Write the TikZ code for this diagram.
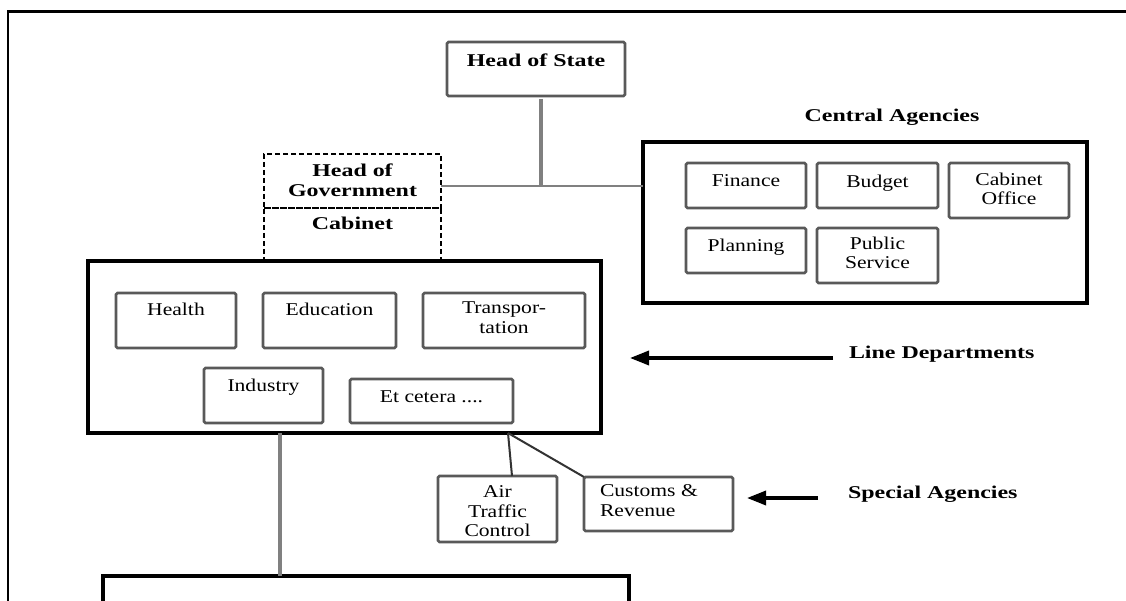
\documentclass[tikz,border=0pt]{standalone}
\usepackage{fontspec}
\setmainfont{Liberation Serif}
\newfontfamily\regf[FakeStretch=1.2]{Liberation Serif}
\newfontfamily\bldf[FakeStretch=1.33]{Liberation Serif}
\usetikzlibrary{arrows.meta}
\begin{document}
\begin{tikzpicture}[x=1pt,y=-1pt,
  every node/.style={inner sep=0pt, outer sep=0pt},
  ibox/.style={draw=black!65, line width=2.8pt, rounded corners=1.5pt, anchor=north west},
  bigbox/.style={draw=black, line width=3.4pt, anchor=north west},
  dbox/.style={draw=black, line width=2pt, dash pattern=on 5pt off 3pt, anchor=north west},
  rtxt/.style={font=\regf\fontsize{18pt}{19.5pt}\selectfont, align=center, anchor=north},
  btxt/.style={font=\bldf\bfseries\fontsize{18pt}{20pt}\selectfont, align=center},
  gline/.style={draw=black!50, line width=3.6pt},
  gthin/.style={draw=black!50, line width=2.6pt},
  dline/.style={draw=black!80, line width=2pt},
  arr/.style={draw=black, line width=3.4pt, -{Triangle[length=19pt,width=14pt]}},
]
\useasboundingbox (0,0) rectangle (1126,601);
\clip (0,0) rectangle (1126,601);
\fill[white] (0,0) rectangle (1126,601);

% outer frame
\node[draw=black, line width=2.4pt, minimum width=1140pt, minimum height=620pt, anchor=north west] (frame) at (8,11.5) {};

% head of state
\node[ibox, minimum width=178pt, minimum height=54pt] (hos) at (447,42) {};
\node[btxt, anchor=north] (hosT) at ([yshift=-12pt]hos.north) {Head of State};

% head of government / cabinet
\node[dbox, minimum width=177pt, minimum height=54pt] (hog) at (264,154) {};
\node[btxt, anchor=north] (hogT) at ([yshift=-10pt]hog.north) {Head of\\Government};
\node[dbox, minimum width=177pt, minimum height=53pt] (cab) at (264,208) {};
\node[btxt, anchor=north] (cabT) at ([yshift=-9pt]cab.north) {Cabinet};

% line departments box
\node[bigbox, fill=white, minimum width=513pt, minimum height=172pt] (ld) at (88,261) {};
\node[ibox, minimum width=120pt, minimum height=55pt] (health) at (116,293) {};
\node[rtxt] (healthT) at ([yshift=-10pt]health.north) {Health};
\node[ibox, minimum width=133pt, minimum height=55pt] (edu) at (263,293) {};
\node[rtxt] (eduT) at ([yshift=-10pt]edu.north) {Education};
\node[ibox, minimum width=162pt, minimum height=55pt] (trans) at (423,293) {};
\node[rtxt] (transT) at ([yshift=-9pt]trans.north) {Transpor-\\tation};
\node[ibox, minimum width=119pt, minimum height=55pt] (ind) at (204,368) {};
\node[rtxt] (indT) at ([yshift=-11pt]ind.north) {Industry};
\node[ibox, minimum width=163pt, minimum height=44pt] (etc) at (350,379) {};
\node[rtxt] (etcT) at ([yshift=-12pt]etc.north) {Et cetera ....};

% central agencies
\node[btxt, anchor=base] (caT) at (892,122) {Central Agencies};
\node[bigbox, minimum width=444pt, minimum height=161pt] (ca) at (643,142) {};
\node[ibox, minimum width=120pt, minimum height=45pt] (fin) at (686,163) {};
\node[rtxt] (finT) at ([yshift=-12pt]fin.north) {Finance};
\node[ibox, minimum width=121pt, minimum height=45pt] (bud) at (817,163) {};
\node[rtxt] (budT) at ([yshift=-12pt]bud.north) {Budget};
\node[ibox, minimum width=120pt, minimum height=55pt] (cbo) at (949,163) {};
\node[rtxt] (cboT) at ([yshift=-10pt]cbo.north) {Cabinet\\Office};
\node[ibox, minimum width=120pt, minimum height=45pt] (pla) at (686,228) {};
\node[rtxt] (plaT) at ([yshift=-11pt]pla.north) {Planning};
\node[ibox, minimum width=121pt, minimum height=55pt] (pub) at (817,228) {};
\node[rtxt] (pubT) at ([yshift=-9pt]pub.north) {Public\\Service};

% special agencies
\node[ibox, minimum width=119pt, minimum height=66pt] (atc) at (438,476) {};
\node[rtxt] (atcT) at ([yshift=-10pt]atc.north) {Air\\Traffic\\Control};
\node[ibox, minimum width=149pt, minimum height=54pt] (cust) at (584,477) {};
\node[rtxt, align=left, anchor=north west] (custT) at ([xshift=16pt,yshift=-8pt]cust.north west) {Customs \&\\Revenue};

% bottom box
\node[bigbox, minimum width=526pt, minimum height=80pt] (bot) at (103,576) {};

% side labels
\node[btxt, anchor=base west] (ldT) at (849,358) {Line Departments};
\node[btxt, anchor=base west] (saT) at (848,498) {Special Agencies};

% connectors
\coordinate (hj) at (541,186);
\draw[gline] ([yshift=-3pt]hj |- hos.south) -- (hj);
\draw[gthin] (hog.east |- hj) -- (ca.west |- hj);
\coordinate (vj) at (280,433);
\draw[gline] (vj) -- (vj |- bot.north);
\coordinate (sp) at (508,433);
\draw[dline] (sp) -- ([xshift=74pt]atc.north west);
\draw[dline] (sp) -- (cust.north west);
\coordinate (ldA) at (630,358);
\draw[arr] ([xshift=-16pt]ldT.base west) -- (ldA);
\coordinate (saA) at (747,498);
\draw[arr] ([xshift=-30pt]saT.base west) -- (saA);
\end{tikzpicture}
\end{document}
